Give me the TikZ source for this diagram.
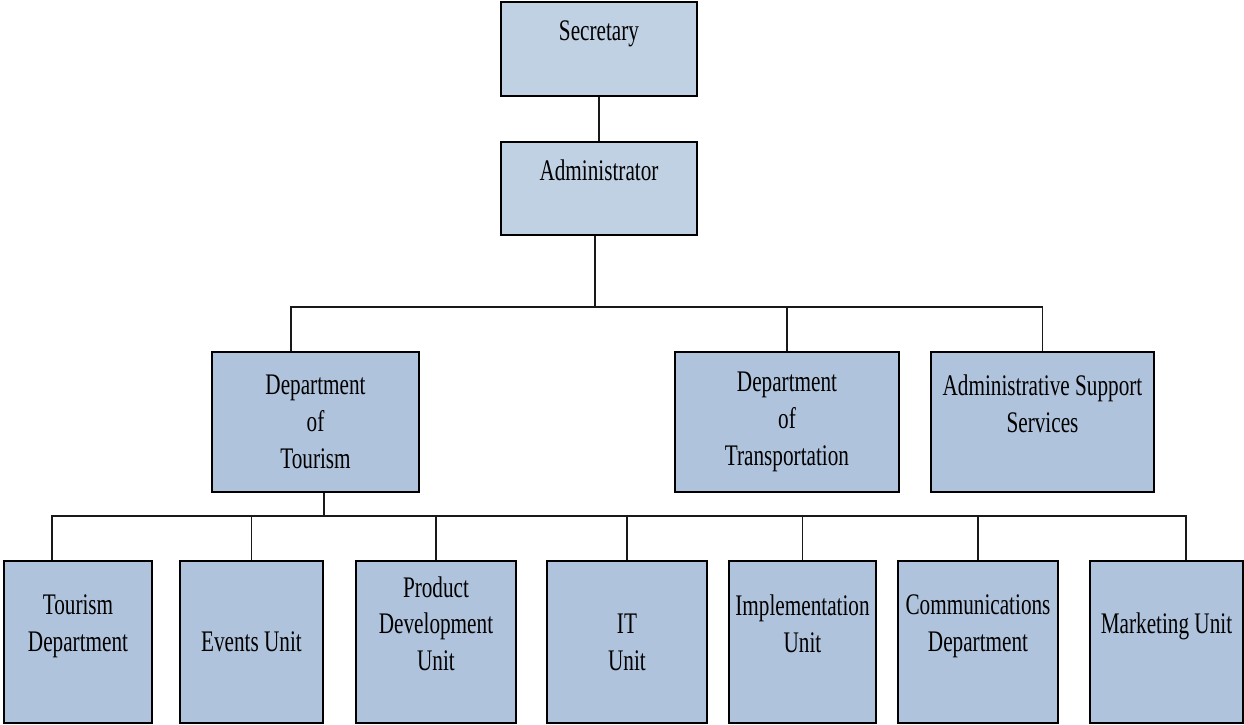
\documentclass[tikz,border=0pt]{standalone}
\usepackage{fontspec}
\setmainfont{Liberation Serif}[FakeStretch=0.71]
\definecolor{topblue}{HTML}{C0D1E4}
\definecolor{unitblue}{HTML}{B0C3DC}
\begin{document}
\begin{tikzpicture}[
    office/.style={draw=black, line width=0.9pt, fill=unitblue, align=center,
        inner sep=0pt, font=\fontsize{17}{21}\selectfont},
    head/.style={office, fill=topblue, minimum width=3.92cm, minimum height=1.87cm},
    dept/.style={office, minimum height=2.8cm},
    unit/.style={office, minimum height=3.24cm},
    link/.style={draw=black!90, line width=1pt}
]
    \useasboundingbox (0,0) rectangle (24.88,-14.5);

    % top of the chart
    \node[head] (sec) at (11.98,-0.98) {Secretary\\~};
    \node[head] (adm) at (11.98,-3.77) {Administrator\\~};

    % departments
    \node[dept, minimum width=4.14cm] (dtour) at (6.31,-8.44) {Department\\of\\Tourism};
    \node[dept, minimum width=4.48cm] (dtrans) at (15.74,-8.44) {Department\\of\\Transportation};
    \node[dept, minimum width=4.46cm] (adsup) at (20.85,-8.44) {Administrative Support\\Services\\~};

    % units under tourism
    \node[unit, minimum width=2.96cm] (tdep) at (1.56,-12.84) {Tourism\\Department\\~};
    \node[unit, minimum width=2.86cm] (events) at (5.03,-12.84) {Events Unit};
    \node[unit, minimum width=3.20cm] (prod) at (8.72,-12.84) {Product\\Development\\Unit\\~};
    \node[unit, minimum width=3.20cm] (itu) at (12.54,-12.84) {IT\\Unit};
    \node[unit, minimum width=2.94cm] (impl) at (16.05,-12.84) {Implementation\\Unit\\~};
    \node[unit, minimum width=3.20cm] (comm) at (19.56,-12.84) {Communications\\Department\\~};
    \node[unit, minimum width=3.06cm] (mkt) at (23.33,-12.84) {Marketing Unit\\~};

    % connectors
    \draw[link] (sec) -- (adm);
    \draw[link] ([xshift=-0.08cm]adm.south) -- ++(0,-1.42) coordinate (hub1);
    \draw[link] (hub1) -| ([xshift=-0.49cm]dtour.north);
    \draw[link] (hub1) -| (dtrans.north);
    \draw[link] (hub1) -| (adsup.north);

    \draw[link] ([xshift=0.17cm]dtour.south) -- ++(0,-0.46) coordinate (hub2);
    \draw[link] (hub2) -| ([xshift=-0.52cm]tdep.north);
    \foreach \u in {events,prod,itu,impl,comm}
        \draw[link] (hub2) -| (\u.north);
    \draw[link] (hub2) -| ([xshift=0.39cm]mkt.north);
\end{tikzpicture}
\end{document}
